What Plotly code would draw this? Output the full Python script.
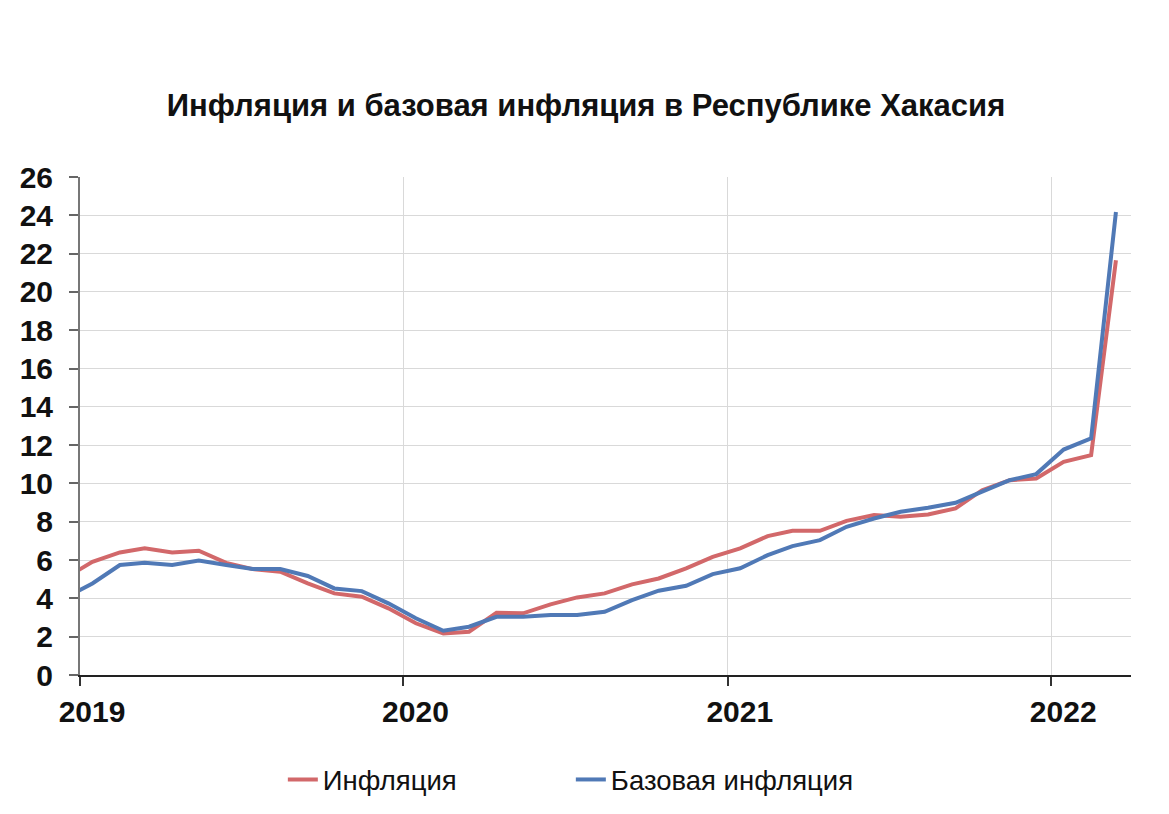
import pandas as pd
import plotly.graph_objects as go

# Monthly values, Dec 2018 - Mar 2022 (points sit mid-month)
months = pd.date_range("2018-12-01", "2022-03-01", freq="MS") + pd.Timedelta(days=14)

inflation = [5.05,
             5.91, 6.40, 6.61, 6.40, 6.49, 5.85, 5.53, 5.39, 4.78, 4.26, 4.09, 3.48,
             2.70, 2.17, 2.26, 3.25, 3.22, 3.69, 4.05, 4.26, 4.73, 5.04, 5.57, 6.17,
             6.61, 7.25, 7.53, 7.53, 8.05, 8.35, 8.26, 8.38, 8.70, 9.65, 10.17, 10.26,
             11.13, 11.48, 21.65]
core_inflation = [4.02,
                  4.78, 5.74, 5.86, 5.74, 5.97, 5.74, 5.53, 5.53, 5.17, 4.52, 4.38, 3.74,
                  2.96, 2.31, 2.52, 3.04, 3.04, 3.13, 3.13, 3.30, 3.91, 4.40, 4.66, 5.27,
                  5.57, 6.26, 6.73, 7.04, 7.74, 8.17, 8.52, 8.73, 8.99, 9.57, 10.17, 10.49,
                  11.77, 12.35, 24.17]

year_ticks = ["2019-01-01", "2020-01-01", "2021-01-01", "2022-01-01"]
year_labels = ["2019", "2020", "2021", "2022"]

font_family = "Liberation Sans, Arial, sans-serif"

fig = go.Figure()
fig.add_trace(go.Scatter(x=months, y=inflation, mode="lines", name="Инфляция",
                         line=dict(color="#D2686A", width=4)))
fig.add_trace(go.Scatter(x=months, y=core_inflation, mode="lines", name="Базовая инфляция",
                         line=dict(color="#5079B6", width=4)))

fig.update_layout(
    width=1169, height=814,
    margin=dict(l=65, r=46, t=169, b=147),
    paper_bgcolor="white", plot_bgcolor="white",
    font=dict(family=font_family, color="#111"),
    title=dict(text="<b>Инфляция и базовая инфляция в Республике Хакасия</b>",
               x=578 / 1169, xanchor="center", y=1 - 97 / 814, yanchor="middle",
               yref="container", font=dict(size=31, color="#111")),
    legend=dict(orientation="h", x=0.193, xanchor="left", y=-0.21, yanchor="middle",
                font=dict(size=27.5, color="#111"), entrywidth=243,
                entrywidthmode="pixels", bgcolor="rgba(0,0,0,0)"),
    showlegend=True,
)

fig.update_xaxes(
    range=["2019-01-01", "2022-04-01"],
    tickvals=year_ticks, ticktext=["<b>" + t + "</b>" for t in year_labels],
    ticks="outside", ticklen=9, tickcolor="#333", tickwidth=1.5,
    ticklabelshift=12, ticklabelstandoff=0,
    tickfont=dict(size=30, color="#111", family=font_family),
    showline=True, linecolor="#222", linewidth=2,
    showgrid=True, gridcolor="#D9D9D9", gridwidth=1,
    zeroline=False,
)
fig.update_yaxes(
    range=[0, 26], dtick=2,
    ticks="outside", ticklen=9, tickcolor="#666", tickwidth=1.5,
    ticklabelstandoff=10,
    tickfont=dict(size=30, color="#111", family=font_family),
    tickprefix="<b>", ticksuffix="</b>",
    showline=True, linecolor="#777", linewidth=2,
    showgrid=True, gridcolor="#D9D9D9", gridwidth=1,
    zeroline=False,
)

fig.write_html("out.html")
